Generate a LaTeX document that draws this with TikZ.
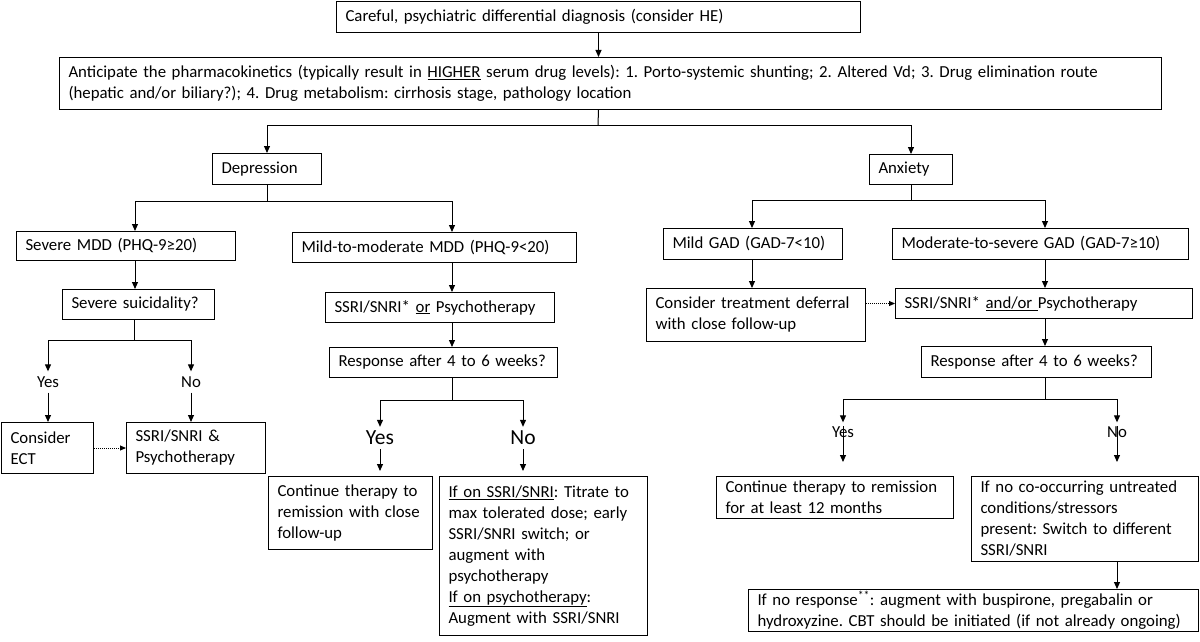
\documentclass[tikz,border=0pt]{standalone}
\usepackage{fontspec}
\setmainfont{Carlito}
\usetikzlibrary{arrows.meta}
\newcommand\fsmain{\fontsize{16.8pt}{21pt}\selectfont\frenchspacing}
\newcommand\fsbig{\fontsize{21.5pt}{25pt}\selectfont}
\newcommand\flowbox[6]{%
  \pgfmathsetmacro\bxw{#4-#2}\pgfmathsetmacro\bxh{#5-#3}\pgfmathsetmacro\bxt{#4-#2-18}%
  \node[box, minimum width=\bxw pt, minimum height=\bxh pt, text width=\bxt pt] (#1) at (#2,#3) {#6};}
\begin{document}
\frenchspacing
\begin{tikzpicture}[x=1pt,y=-1pt,
  box/.style={draw=black, line width=1pt, inner xsep=9pt, inner ysep=0pt, anchor=north west, align=left, font=\fsmain},
  lbl/.style={inner xsep=1pt, inner ysep=5pt, font=\fsmain},
  lblx/.style={inner sep=0pt, font=\fsmain},
  biglbl/.style={inner xsep=1pt, inner ysep=4pt, font=\fsbig},
  ln/.style={line width=1pt},
  arr/.style={line width=1pt, -{Triangle[length=7pt,width=6pt]}},
  dotarr/.style={line width=0.9pt, dash pattern=on 1pt off 1pt, -{Triangle[length=6pt,width=5pt]}}]
\useasboundingbox[fill=white] (0,0) rectangle (1200,642);

% boxes
\flowbox{top}{336}{1}{860}{32}{Careful, psychiatric differential diagnosis (consider HE)}
\flowbox{anti}{59}{57}{1161}{109}{Anticipate the pharmacokinetics (typically result in \underline{HIGHER} serum drug levels): 1. Porto-systemic shunting; 2. Altered Vd; 3. Drug elimination route\\(hepatic and/or biliary?); 4. Drug metabolism: cirrhosis stage, pathology location}
\flowbox{dep}{212}{153}{321}{184}{Depression}
\flowbox{anx}{869}{154}{952}{184}{Anxiety}
\flowbox{sev}{16}{231}{235}{260}{Severe MDD (PHQ-9≥20)}
\flowbox{mild}{292}{232}{576}{262}{Mild-to-moderate MDD (PHQ-9<20)}
\flowbox{suic}{62}{289}{214}{319}{Severe suicidality?}
\flowbox{ssri1}{325}{292}{554}{322}{SSRI/SNRI* \underline{or} Psychotherapy}
\flowbox{resp1}{329}{347}{557}{377}{Response after 4 to 6 weeks?}
\flowbox{ect}{1}{422}{93}{473}{Consider\\ECT}
\flowbox{ssri2}{126}{422}{265}{473}{SSRI/SNRI \&\\Psychotherapy}
\flowbox{cont1}{268}{476}{432}{549}{Continue therapy to\\remission with close\\follow-up}
\flowbox{ifon}{439}{476}{647}{635}{\underline{If on SSRI/SNRI}: Titrate to\\max tolerated dose; early\\SSRI/SNRI switch; or\\augment with\\psychotherapy\\\underline{If on psychotherapy}:\\Augment with SSRI/SNRI}
\flowbox{mgad}{663}{228}{842}{259}{Mild GAD (GAD-7<10)}
\flowbox{msgad}{892}{228}{1188}{259}{Moderate-to-severe GAD (GAD-7≥10)}
\flowbox{defer}{646}{288}{865}{341}{Consider treatment deferral\\with close follow-up}
\flowbox{ssri3}{895}{288}{1192}{318}{SSRI/SNRI* \underline{and/or }Psychotherapy}
\flowbox{resp2}{921}{346}{1151}{377}{Response after 4 to 6 weeks?}
\flowbox{cont2}{716}{476}{953}{518}{Continue therapy to remission\\for at least 12 months}
\flowbox{ifno}{971}{476}{1198}{561}{If no co-occurring untreated\\conditions/stressors\\present: Switch to different\\SSRI/SNRI}
\flowbox{resp3}{748}{589}{1198}{631}{If no response\textsuperscript{**}: augment with buspirone, pregabalin or\\hydroxyzine. CBT should be initiated (if not already ongoing)}

% labels
\node[lbl] (yes1) at (48,382) {Yes};
\node[lbl] (no1) at (191,382) {No};
\node[biglbl] (yes2) at (380,438) {Yes};
\node[biglbl] (no2) at (523,438) {No};
\node[lblx] (yes3) at (843,432) {Yes};
\node[lblx] (no3) at (1117,432) {No};

% junctions
\coordinate (j1) at (598,125);
\coordinate (j2L) at (135,201);
\coordinate (j2R) at (452,201);
\coordinate (j3) at (134,340);
\coordinate (j4) at (452,400);
\coordinate (j5L) at (752,200);
\coordinate (j5R) at (1045,200);
\coordinate (j6) at (1045,399);

% connectors: top
\draw[arr] (top.south) -- (top.south |- anti.north);
\draw[ln] (top.south |- anti.south) -- (j1);
\draw[arr] (j1) -| (dep.north);
\draw[arr] (j1) -| (anx.north);

% depression branch
\draw[ln] (dep.south) -- (dep.south |- j2L);
\draw[ln] (j2L) -- (j2R);
\draw[arr] (j2L) -- (j2L |- sev.north);
\draw[arr] (j2R) -- (j2R |- mild.north);
\draw[arr] (j2L |- sev.south) -- (j2L |- suic.north);
\draw[ln] (j3 |- suic.south) -- (j3);
\draw[ln] (yes1 |- j3) -- (no1 |- j3);
\draw[arr] (yes1 |- j3) -- (yes1);
\draw[arr] (no1 |- j3) -- (no1);
\draw[arr] (yes1) -- (yes1 |- ect.north);
\draw[arr] (no1) -- (no1 |- ssri2.north);
\draw[dotarr] (ect) -- (ssri2);
\draw[arr] (j2R |- mild.south) -- (j2R |- ssri1.north);
\draw[arr] (j2R |- ssri1.south) -- (j2R |- resp1.north);
\draw[ln] (j2R |- resp1.south) -- (j4);
\draw[ln] (yes2 |- j4) -- (no2 |- j4);
\draw[arr] (yes2 |- j4) -- (yes2);
\draw[arr] (no2 |- j4) -- (no2);
\draw[arr, shorten >=5pt] (yes2) -- (yes2 |- cont1.north);
\draw[arr, shorten >=5pt] (no2) -- (no2 |- ifon.north);

% anxiety branch
\draw[ln] (anx.south) -- (anx.south |- j5L);
\draw[ln] (j5L) -- (j5R);
\draw[arr] (j5L) -- (j5L |- mgad.north);
\draw[arr] (j5R) -- (j5R |- msgad.north);
\draw[arr] (j5L |- mgad.south) -- (j5L |- defer.north);
\draw[dotarr] (defer.east |- ssri3.west) -- (ssri3.west);
\draw[arr] (j5R |- msgad.south) -- (j5R |- ssri3.north);
\draw[arr] (j5R |- ssri3.south) -- (j5R |- resp2.north);
\draw[ln] (j5R |- resp2.south) -- (j6);
\draw[ln] (yes3 |- j6) -- (no3 |- j6);
\draw[arr, shorten >=4pt] (yes3 |- j6) -- (yes3.north);
\draw[arr, shorten >=4pt] (no3 |- j6) -- (no3.north);
\draw[arr, shorten >=14pt] (yes3.north) -- (yes3 |- cont2.north);
\draw[arr, shorten >=14pt] (no3.north) -- (no3 |- ifno.north);
\draw[arr] (no3 |- ifno.south) -- (no3 |- resp3.north);
\end{tikzpicture}
\end{document}
